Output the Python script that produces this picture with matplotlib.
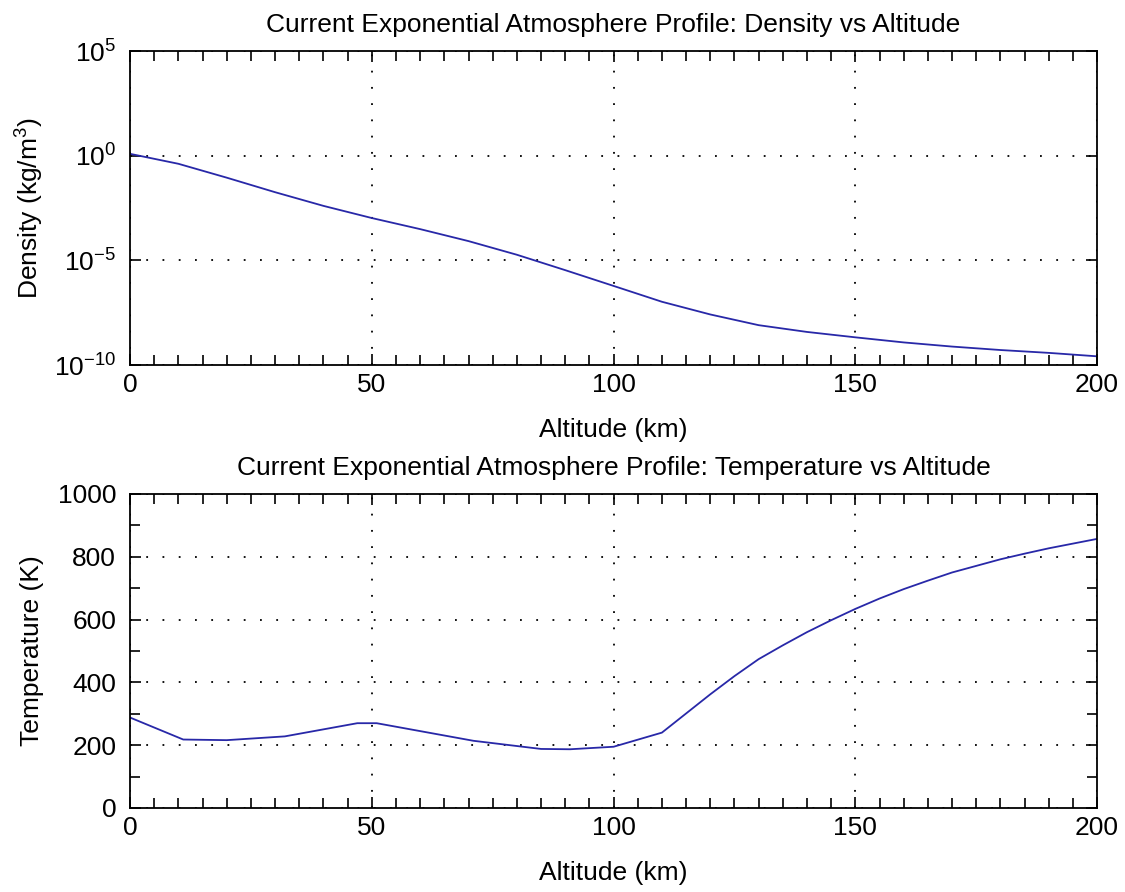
import matplotlib
matplotlib.use('Agg')
import matplotlib.pyplot as plt
from matplotlib.ticker import MultipleLocator, FixedLocator, LogFormatterMathtext

plt.rcParams['font.family'] = ['Liberation Sans', 'DejaVu Sans']
plt.rcParams['mathtext.fontset'] = 'custom'
plt.rcParams['mathtext.rm'] = 'Liberation Sans'
plt.rcParams['mathtext.it'] = 'Liberation Sans'

# Density profile (top panel), altitude in km, density in kg/m^3
dens_alt = [0, 10, 20, 30, 40, 50, 60, 70, 80, 90, 100,
            110, 120, 130, 140, 150, 160, 170, 180, 190, 200]
density = [1.225, 4.1e-1, 8.9e-2, 1.8e-2, 4.0e-3, 1.05e-3, 3.1e-4, 8.3e-5,
           1.85e-5, 3.4e-6, 6.0e-7, 1.05e-7, 2.6e-8, 8.0e-9, 3.8e-9, 2.1e-9,
           1.2e-9, 7.6e-10, 5.2e-10, 3.8e-10, 2.6e-10]

# Temperature profile (bottom panel), altitude in km, temperature in K
temp_alt = [0, 11, 20, 32, 47, 51, 71, 85, 91, 100, 110, 120,
            125, 130, 135, 140, 145, 150, 155, 160, 165, 170,
            175, 180, 185, 190, 195, 200]
temperature = [288, 218, 216, 228, 270, 270, 214, 188, 187, 195, 240, 362,
               420, 474, 518, 560, 598, 634, 667, 697, 724, 750,
               771, 792, 810, 827, 842, 857]

line_color = '#2828a8'
fs = 19

fig = plt.figure(figsize=(11.25, 8.92), dpi=100)
ax1 = fig.add_axes([0.1156, 0.5908, 0.8596, 0.352])
ax2 = fig.add_axes([0.1156, 0.0942, 0.8596, 0.352])

# Density vs altitude
ax1.semilogy(dens_alt, density, color=line_color, linewidth=1.3)
ax1.set_xlim(0, 200)
ax1.set_ylim(1e-10, 1e5)
ax1.yaxis.set_major_locator(FixedLocator([1e-10, 1e-5, 1e0, 1e5]))
ax1.yaxis.set_minor_locator(FixedLocator([]))
ax1.yaxis.set_major_formatter(LogFormatterMathtext())
ax1.xaxis.set_major_locator(MultipleLocator(50))
ax1.xaxis.set_minor_locator(MultipleLocator(5))
ax1.set_title('Current Exponential Atmosphere Profile: Density vs Altitude', fontsize=fs, pad=14)
ax1.set_xlabel('Altitude (km)', fontsize=fs, labelpad=15)
ax1.set_ylabel('Density (kg/m$^3$)', fontsize=fs, labelpad=6)

# Temperature vs altitude
ax2.plot(temp_alt, temperature, color=line_color, linewidth=1.3)
ax2.set_xlim(0, 200)
ax2.set_ylim(0, 1000)
ax2.xaxis.set_major_locator(MultipleLocator(50))
ax2.xaxis.set_minor_locator(MultipleLocator(5))
ax2.yaxis.set_major_locator(MultipleLocator(200))
ax2.yaxis.set_minor_locator(MultipleLocator(100))
ax2.set_title('Current Exponential Atmosphere Profile: Temperature vs Altitude', fontsize=fs, pad=14)
ax2.set_xlabel('Altitude (km)', fontsize=fs, labelpad=15)
ax2.set_ylabel('Temperature (K)', fontsize=fs, labelpad=10)

for ax in (ax1, ax2):
    ax.grid(True, which='major', color='black', linestyle=(0, (1, 8)), linewidth=1.3)
    ax.tick_params(which='both', direction='in', top=True, right=True, labelsize=fs)
    ax.tick_params(axis='x', which='both', pad=6)
    ax.tick_params(axis='y', which='both', pad=10)
    ax.tick_params(which='major', length=8, width=1.2)
    ax.tick_params(which='minor', length=7, width=1.2)
    for s in ax.spines.values():
        s.set_linewidth(1.3)

plt.savefig('out.png', dpi=100)
